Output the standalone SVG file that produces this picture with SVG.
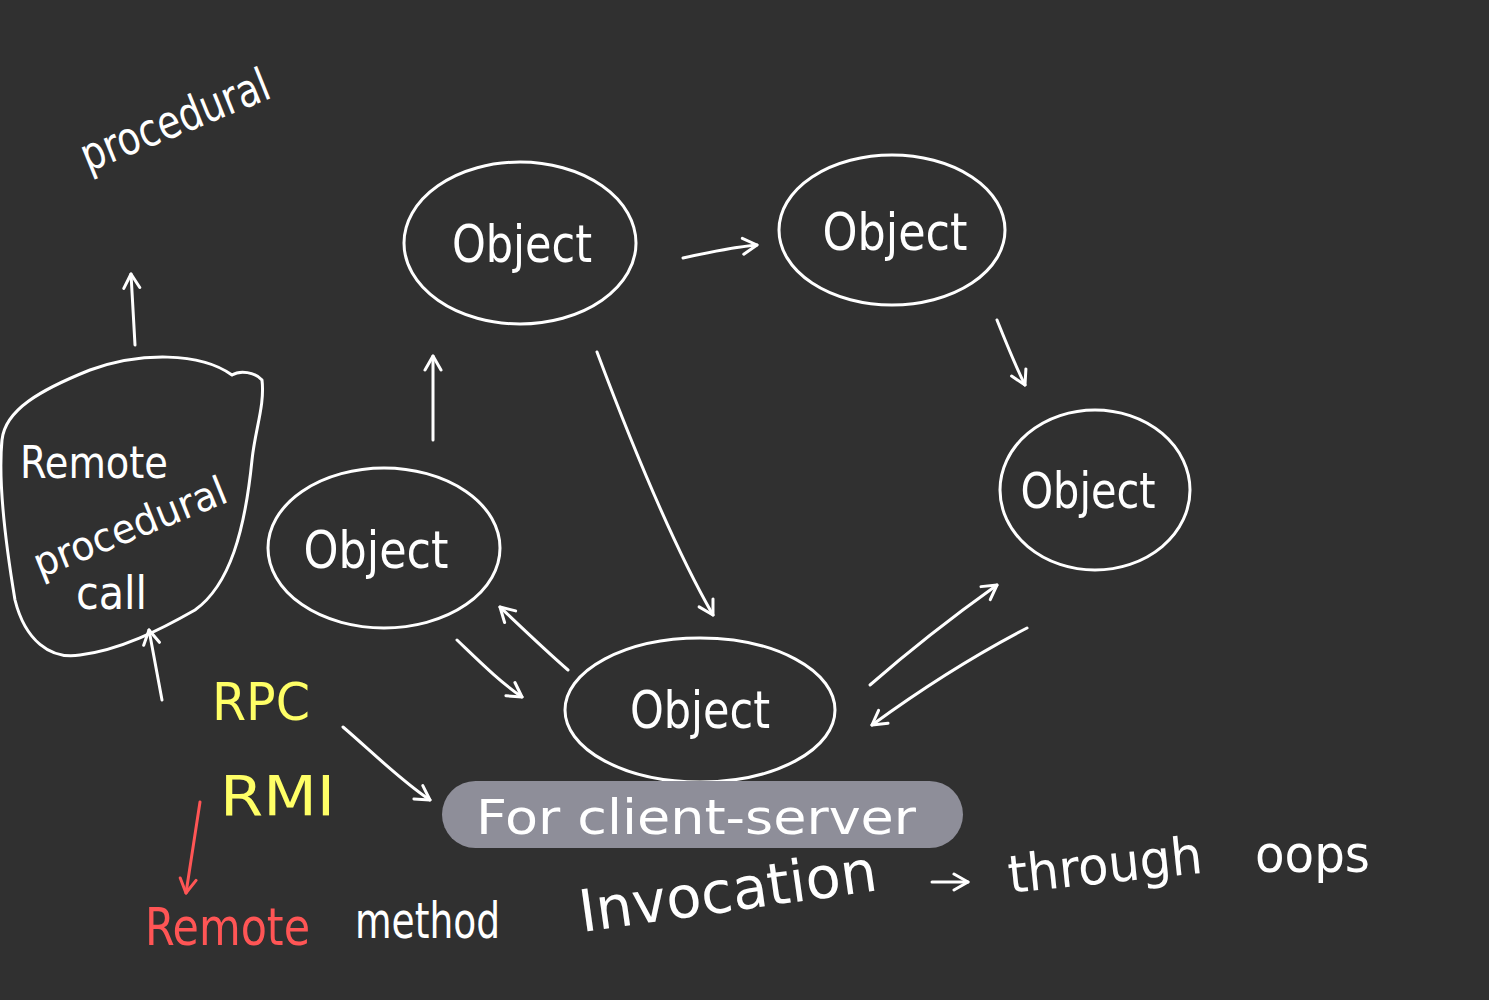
<svg xmlns="http://www.w3.org/2000/svg" width="1489" height="1000" viewBox="0 0 1489 1000">
<style>
.bg{fill:#303030}
.n{fill:none;stroke:#fff;stroke-width:3;stroke-linecap:round;stroke-linejoin:round}
.c{fill:none;stroke:#fff;stroke-width:3;stroke-linecap:round;stroke-linejoin:round;marker-end:url(#ah)}
.t{font-family:"DejaVu Sans Condensed","Liberation Sans",sans-serif;fill:#fff;font-weight:300}
.y{fill:#ffff66}
.r{fill:#ff5555}
</style>
<defs>
<marker id="ah" viewBox="0 0 20 20" refX="16" refY="10" markerWidth="20" markerHeight="20" markerUnits="userSpaceOnUse" orient="auto">
<path d="M2,2 L16,10 L2,18" fill="none" stroke="#fff" stroke-width="3" stroke-linecap="round" stroke-linejoin="round"/>
</marker>
<marker id="ahr" viewBox="0 0 20 20" refX="16" refY="10" markerWidth="20" markerHeight="20" markerUnits="userSpaceOnUse" orient="auto">
<path d="M2,2 L16,10 L2,18" fill="none" stroke="#ff5555" stroke-width="3" stroke-linecap="round" stroke-linejoin="round"/>
</marker>
</defs>
<rect class="bg" width="1489" height="1000"/>

<text class="t" x="0" y="0" font-size="46" textLength="200" lengthAdjust="spacingAndGlyphs" transform="translate(88,172) rotate(-22)">procedural</text>

<g id="rpc-node">
<path class="n" d="M232,375 C200,352 140,352 90,370 C40,390 5,410 2,440 C-2,480 5,540 15,600 C25,640 50,660 80,655 C120,650 160,630 195,610 C230,585 245,530 252,460 C255,430 265,405 262,380 C255,372 240,370 232,375"/>
<text class="t" x="20" y="478" font-size="44" textLength="148" lengthAdjust="spacingAndGlyphs">Remote</text>
<text class="t" x="0" y="0" font-size="40" textLength="205" lengthAdjust="spacingAndGlyphs" transform="translate(40,578) rotate(-22)">procedural</text>
<text class="t" x="76" y="609" font-size="46">call</text>
</g>

<g id="obj1">
<ellipse class="n" cx="520" cy="243" rx="116" ry="81"/>
<text class="t" x="522" y="262" font-size="52" text-anchor="middle" textLength="140" lengthAdjust="spacingAndGlyphs">Object</text>
</g>
<g id="obj2">
<ellipse class="n" cx="892" cy="230" rx="113" ry="75"/>
<text class="t" x="895" y="250" font-size="52" text-anchor="middle" textLength="145" lengthAdjust="spacingAndGlyphs">Object</text>
</g>
<g id="obj3">
<ellipse class="n" cx="1095" cy="490" rx="95" ry="80"/>
<text class="t" x="1088" y="508" font-size="50" text-anchor="middle" textLength="135" lengthAdjust="spacingAndGlyphs">Object</text>
</g>
<g id="obj4">
<ellipse class="n" cx="384" cy="548" rx="116" ry="80"/>
<text class="t" x="376" y="568" font-size="52" text-anchor="middle" textLength="145" lengthAdjust="spacingAndGlyphs">Object</text>
</g>
<g id="obj5">
<ellipse class="n" cx="700" cy="710" rx="135" ry="72"/>
<text class="t" x="700" y="728" font-size="52" text-anchor="middle" textLength="140" lengthAdjust="spacingAndGlyphs">Object</text>
</g>

<g id="pill">
<rect x="442" y="781" width="521" height="67" rx="33.5" fill="#8e8e99"/>
<text class="t" x="476" y="834" font-size="48" fill="#f4f4f8" textLength="440" lengthAdjust="spacingAndGlyphs">For client-server</text>
</g>

<g id="labels">
<text class="t y" x="212" y="720" font-size="52" textLength="98" lengthAdjust="spacingAndGlyphs">RPC</text>
<text class="t y" x="220" y="815" font-size="56" textLength="115" lengthAdjust="spacingAndGlyphs">RMI</text>
<text class="t r" x="145" y="945" font-size="52" textLength="165" lengthAdjust="spacingAndGlyphs">Remote</text>
<text class="t" x="355" y="938" font-size="50" textLength="145" lengthAdjust="spacingAndGlyphs">method</text>
<text class="t" x="0" y="0" font-size="58" textLength="300" lengthAdjust="spacingAndGlyphs" transform="translate(582,932) rotate(-8)">Invocation</text>
<text class="t" x="0" y="0" font-size="52" textLength="195" lengthAdjust="spacingAndGlyphs" transform="translate(1010,893) rotate(-6)">through</text>
<text class="t" x="1255" y="872" font-size="52" textLength="115" lengthAdjust="spacingAndGlyphs">oops</text>
</g>

<g id="connectors">
<path class="c" d="M135,345 L131,274"/>
<path class="c" d="M162,700 L149,630"/>
<path d="M200,802 L186,893" fill="none" stroke="#ff5555" stroke-width="3" stroke-linecap="round" marker-end="url(#ahr)"/>
<path class="c" d="M343,727 C370,750 400,780 430,800"/>
<path class="c" d="M683,258 C710,252 735,247 757,245"/>
<path class="c" d="M997,320 C1005,340 1015,365 1025,385"/>
<path class="c" d="M597,352 C630,440 670,540 713,615"/>
<path class="c" d="M433,440 L433,356"/>
<path class="c" d="M457,640 C480,662 500,682 522,697"/>
<path class="c" d="M568,670 C545,650 522,628 500,607"/>
<path class="c" d="M870,685 C910,650 955,615 997,585"/>
<path class="c" d="M1027,628 C975,655 920,690 872,725"/>
<path class="c" d="M932,882 L968,882"/>
</g>
</svg>
